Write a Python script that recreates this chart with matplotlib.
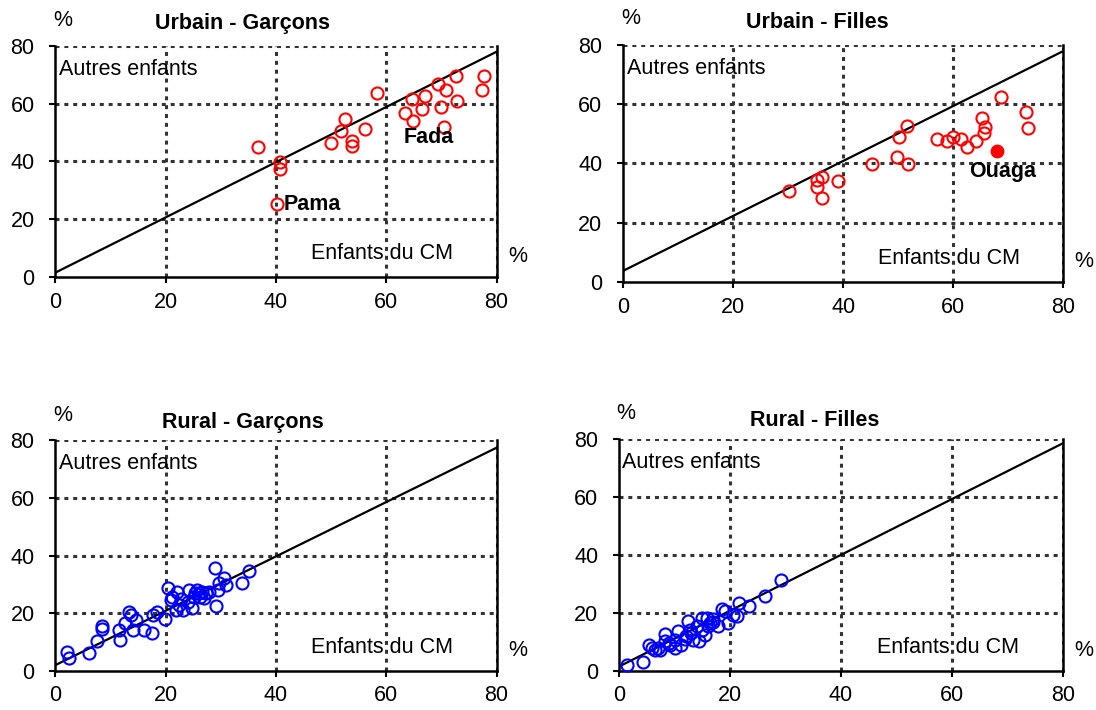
import matplotlib
matplotlib.use("Agg")
import matplotlib.pyplot as plt

plt.rcParams['font.family'] = ['Liberation Sans', 'DejaVu Sans']

# ---------------- data ----------------
titles = ["Urbain - Garçons", "Urbain - Filles", "Rural - Garçons", "Rural - Filles"]
ticks = [0, 20, 40, 60, 80]
line_x = [0, 80]

# Urbain - Garçons
ug_x = [36.8, 40.7, 40.7, 40.1, 50.0, 51.7, 52.6, 53.7, 53.7, 56.1, 58.4, 63.4,
        64.6, 64.9, 66.4, 67.1, 69.3, 70.0, 70.4, 70.8, 72.6, 72.9, 77.7, 77.4]
ug_y = [44.9, 39.7, 37.3, 25.3, 46.4, 50.5, 54.8, 47.2, 45.5, 51.3, 63.8, 56.9,
        61.7, 54.0, 58.3, 62.6, 66.7, 58.8, 52.1, 64.7, 69.5, 60.9, 69.5, 64.7]
ug_line_y = [1.5, 78.0]

# Urbain - Filles
uf_x = [30.1, 35.2, 36.1, 35.2, 36.2, 39.1, 45.3, 49.7, 51.8, 50.2, 51.5, 57.0,
        58.8, 59.9, 61.4, 62.5, 64.2, 65.5, 65.8, 65.3, 68.6, 73.3, 73.6]
uf_y = [30.7, 34.4, 35.5, 32.1, 28.5, 34.2, 39.7, 42.2, 39.7, 49.0, 52.6, 48.2,
        47.5, 49.0, 48.2, 45.4, 47.5, 50.1, 52.4, 55.2, 62.5, 57.2, 51.8]
uf_ouaga = [67.9, 44.3]
uf_line_y = [3.8, 77.9]

# Rural - Garçons
rg_x = [2.2, 2.5, 6.1, 7.5, 8.4, 8.5, 11.5, 11.8, 12.7, 13.4, 13.7, 14.0, 14.6,
        16.0, 17.5, 17.7, 18.5, 19.9, 20.5, 20.9, 21.2, 21.8, 22.1, 22.4, 22.7,
        24.2, 24.8, 25.1, 25.7, 26.0, 26.3, 26.6, 26.9, 27.3, 27.9, 28.9, 29.2,
        29.4, 29.7, 30.6, 30.9, 33.9, 35.1, 24.0, 25.4, 23.2]
rg_y = [6.7, 4.4, 6.3, 10.5, 15.6, 14.4, 14.2, 10.7, 16.5, 20.6, 19.4, 14.2, 17.7,
        14.2, 13.3, 19.4, 20.6, 18.0, 28.7, 24.6, 25.8, 21.2, 27.5, 22.9, 24.9,
        28.1, 21.7, 25.8, 28.1, 26.9, 25.8, 27.5, 25.2, 26.9, 27.5, 35.6, 22.5,
        28.1, 30.4, 32.2, 29.8, 30.6, 34.8, 24.0, 27.0, 21.0]
rg_line_y = [2.0, 77.5]

# Rural - Filles
rf_x = [1.4, 4.3, 5.4, 5.9, 6.5, 7.4, 8.3, 8.3, 9.2, 10.0, 10.1, 10.7, 11.2, 11.9,
        12.5, 12.8, 13.4, 14.0, 14.4, 14.9, 15.5, 15.8, 16.0, 16.4, 17.0, 17.9,
        18.5, 19.1, 19.7, 20.6, 21.2, 21.6, 23.5, 26.3, 29.2, 7.0, 9.0, 12.0,
        13.0, 15.0, 17.0]
rf_y = [2.1, 3.2, 9.0, 7.9, 7.3, 7.1, 12.8, 10.2, 9.0, 7.9, 10.8, 13.6, 9.0, 11.0,
        17.1, 14.2, 10.8, 15.4, 10.2, 18.3, 12.5, 18.3, 15.4, 16.5, 17.9, 15.4,
        21.2, 20.6, 16.5, 19.1, 18.8, 23.5, 22.3, 25.8, 31.3, 8.0, 9.5, 12.0,
        13.0, 14.0, 17.0]
rf_line_y = [1.5, 78.5]

# ---------------- figure ----------------
fig = plt.figure(figsize=(10.96, 7.10), dpi=100)

rects = [
    [0.0505, 0.6099, 0.4026, 0.3254],
    [0.5687, 0.6028, 0.4015, 0.3341],
    [0.0505, 0.0551, 0.4026, 0.3245],
    [0.5648, 0.0551, 0.4051, 0.3268],
]
title_x = [0.425, 0.44, 0.425, 0.44]
title_pad = [12, 12, 9, 9]

series = [
    (ug_x, ug_y, ug_line_y, "#FF0000"),
    (uf_x, uf_y, uf_line_y, "#FF0000"),
    (rg_x, rg_y, rg_line_y, "#0000FF"),
    (rf_x, rf_y, rf_line_y, "#0000FF"),
]

FS = 15.5
grid_kw = dict(color="#333333", linewidth=2.2, linestyle=(0, (1.3, 1.6)))

axes = []
for rect, title, tx, tp, (xs, ys, ly, col) in zip(rects, titles, title_x, title_pad, series):
    ax = fig.add_axes(rect)
    axes.append(ax)
    ax.set_xlim(0, 80)
    ax.set_ylim(0, 80)
    ax.set_xticks(ticks)
    ax.set_yticks(ticks)
    ax.tick_params(labelsize=FS, length=4, width=1.5, direction='out')
    ax.tick_params(axis='x', pad=6.5)
    ax.tick_params(axis='y', pad=11)
    for t in ticks[1:]:
        ax.axvline(t, zorder=1, **grid_kw)
        ax.axhline(t, zorder=1, **grid_kw)
    for s in ['left', 'bottom', 'right']:
        ax.spines[s].set_linewidth(1.8)
        ax.spines[s].set_color('black')
        ax.spines[s].set_zorder(2)
    ax.spines['top'].set_visible(False)
    ax.plot(line_x, ly, color='black', linewidth=1.6, zorder=3)
    ax.plot(xs, ys, linestyle='none', marker='o', markersize=8.7,
            markerfacecolor='none', markeredgecolor=col, markeredgewidth=1.5,
            zorder=4, clip_on=False)
    ax.set_title(title, fontsize=FS, fontweight='bold', pad=tp, x=tx)
    ax.text(0.016, 1.11, "%", transform=ax.transAxes, fontsize=FS,
            ha='center', va='center')
    ax.text(1.047, 0.087, "%", transform=ax.transAxes, fontsize=FS,
            ha='center', va='center')
    ax.text(0.6, 72, "Autres enfants", fontsize=FS, ha='left', va='center', zorder=5)
    ax.text(59.3, 8.0, "Enfants du CM", fontsize=FS, ha='center', va='center', zorder=5)

# labels
axes[0].text(63.2, 48.3, "Fada", fontsize=FS, fontweight='bold', ha='left', va='center', zorder=5)
axes[0].text(41.4, 25.2, "Pama", fontsize=FS, fontweight='bold', ha='left', va='center', zorder=5)
axes[1].plot([uf_ouaga[0]], [uf_ouaga[1]], linestyle='none', marker='o', markersize=9,
             color='#FF0000', zorder=4)
axes[1].text(62.8, 37.2, "Ouaga", fontsize=FS, fontweight='bold', ha='left', va='center', zorder=5)

fig.savefig("out.png", dpi=100)
